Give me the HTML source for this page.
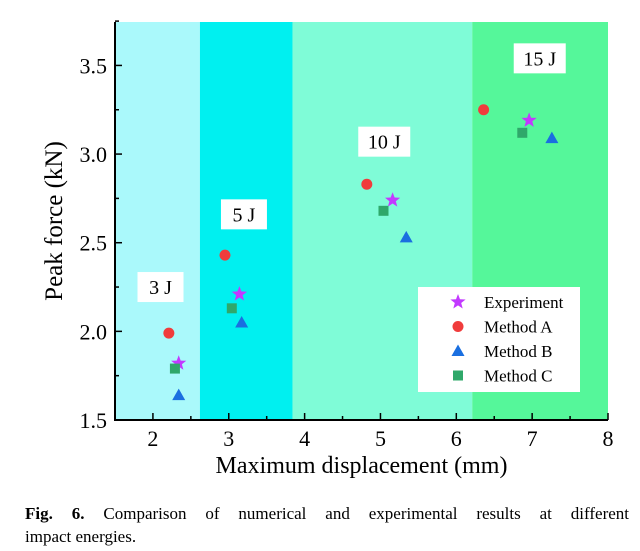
<!DOCTYPE html>
<html><head><meta charset="utf-8"><style>
body{margin:0;background:#fff;width:640px;height:551px;overflow:hidden;font-family:"Liberation Serif",serif}
.cap{position:absolute;left:25px;top:502px;width:604px;font-size:17px;line-height:23px}
.l1{text-align:justify;text-align-last:justify;white-space:normal}
</style></head><body>
<svg id="chart" width="640" height="495" style="position:absolute;left:0;top:0" font-family="Liberation Serif, serif"></svg>
<div class="cap"><div class="l1"><b>Fig. 6.</b> Comparison of numerical and experimental results at different</div><div>impact energies.</div></div>
<script>
const bandEdges=[1.5,2.62,3.84,6.21,8];
const bandColors=["#aaf9fb","#00f0f0","#7ffcd7","#55f79a"];
const energyLabels=["3 J","5 J","10 J","15 J"];
const energyLabelPos=[[2.1,2.25],[3.2,2.66],[5.05,3.07],[7.1,3.54]];
const seriesNames=["Experiment","Method A","Method B","Method C"];
const expX=[2.34,3.14,5.16,6.96], expY=[1.82,2.21,2.74,3.19];
const aX=[2.21,2.95,4.82,6.36], aY=[1.99,2.43,2.83,3.25];
const bX=[2.34,3.17,5.34,7.26], bY=[1.64,2.05,2.53,3.09];
const cX=[2.29,3.04,5.04,6.87], cY=[1.79,2.13,2.68,3.12];
const xTicks=[2,3,4,5,6,7,8], yTicks=[1.5,2.0,2.5,3.0,3.5];
const NS="http://www.w3.org/2000/svg";
const svg=document.getElementById('chart');
const L=115,R=608,T=22,B=420;
const xMin=1.5,xMax=8,yMin=1.5,yMax=3.745;
const sx=v=>L+(v-xMin)/(xMax-xMin)*(R-L);
const sy=v=>B-(v-yMin)/(yMax-yMin)*(B-T);
function el(t,a,p){const e=document.createElementNS(NS,t);for(const k in a)e.setAttribute(k,a[k]);(p||svg).appendChild(e);return e;}
for(let i=0;i<bandColors.length;i++){
 const r=el('rect',{x:sx(bandEdges[i]),y:T,width:sx(bandEdges[i+1])-sx(bandEdges[i]),height:B-T,fill:bandColors[i]});
 
 
}
energyLabels.forEach((t,i)=>{
 const cx=sx(energyLabelPos[i][0]),cy=sy(energyLabelPos[i][1]);
 const g=el('g',{});
 
 
 const w=t.length>3?52:46;
 el('rect',{x:cx-w/2,y:cy-15,width:w,height:30,fill:'#fff'},g);
 const tx=el('text',{x:cx,y:cy+7,'text-anchor':'middle','font-size':20},g);tx.textContent=t;
});
function star(cx,cy,r,fill,p){let pts=[];for(let k=0;k<10;k++){const rr=k%2?r*0.42:r;const a=-Math.PI/2+k*Math.PI/5;pts.push((cx+rr*Math.cos(a)).toFixed(1)+','+(cy+rr*Math.sin(a)).toFixed(1));}return el('polygon',{points:pts.join(' '),fill:fill},p);}
function marker(type,cx,cy,p){
 if(type===0)return star(cx,cy,8,'#c239ff',p);
 if(type===1)return el('circle',{cx:cx,cy:cy,r:5.5,fill:'#f03c3c'},p);
 if(type===2)return el('polygon',{points:`${cx},${cy-6.5} ${cx-6.5},${cy+5} ${cx+6.5},${cy+5}`,fill:'#1a6fe0'},p);
 return el('rect',{x:cx-5,y:cy-5,width:10,height:10,fill:'#2fa86a'},p);
}
const allX=[expX,aX,bX,cX],allY=[expY,aY,bY,cY];
const serNames=['experiment','method-a','method-b','method-c'];
allX.forEach((xs,s)=>xs.forEach((v,i)=>{
 const m=marker(s,sx(v),sy(allY[s][i]));
 
 
}));
const ax=el('path',{d:`M${L},${T} V${B} H${R}`,stroke:'#000','stroke-width':2,fill:'none'});


xTicks.forEach(v=>{
 el('line',{x1:sx(v),x2:sx(v),y1:B,y2:B-7,stroke:'#000','stroke-width':1.5});
 if(v<8)el('line',{x1:sx(v+0.5),x2:sx(v+0.5),y1:B,y2:B-4,stroke:'#000','stroke-width':1.5});
 const t=el('text',{x:sx(v),y:B+26,'text-anchor':'middle','font-size':22});t.textContent=v;
 
 
});
yTicks.forEach(v=>{
 el('line',{x1:L,x2:L+7,y1:sy(v),y2:sy(v),stroke:'#000','stroke-width':1.5});
 el('line',{x1:L,x2:L+4,y1:sy(v+0.25),y2:sy(v+0.25),stroke:'#000','stroke-width':1.5});
 const t=el('text',{x:L-8,y:sy(v)+8,'text-anchor':'end','font-size':22});t.textContent=v.toFixed(1);
 
 
});
const xt=el('text',{x:(L+R)/2,y:473,'text-anchor':'middle','font-size':24});xt.textContent='Maximum displacement (mm)';


const yt=el('text',{x:0,y:0,'text-anchor':'middle','font-size':25,transform:`translate(62,${(T+B)/2}) rotate(-90)`});yt.textContent='Peak force (kN)';


const lg=el('g',{});


el('rect',{x:418,y:287,width:162,height:105,fill:'#fff'},lg);
seriesNames.forEach((n,i)=>{
 const y=302+i*24.5;
 const g=el('g',{},lg);
 
 
 marker(i,458,y,g);
 const t=el('text',{x:484,y:y+6,'font-size':17},g);t.textContent=n;
});
</script>
</body></html>
